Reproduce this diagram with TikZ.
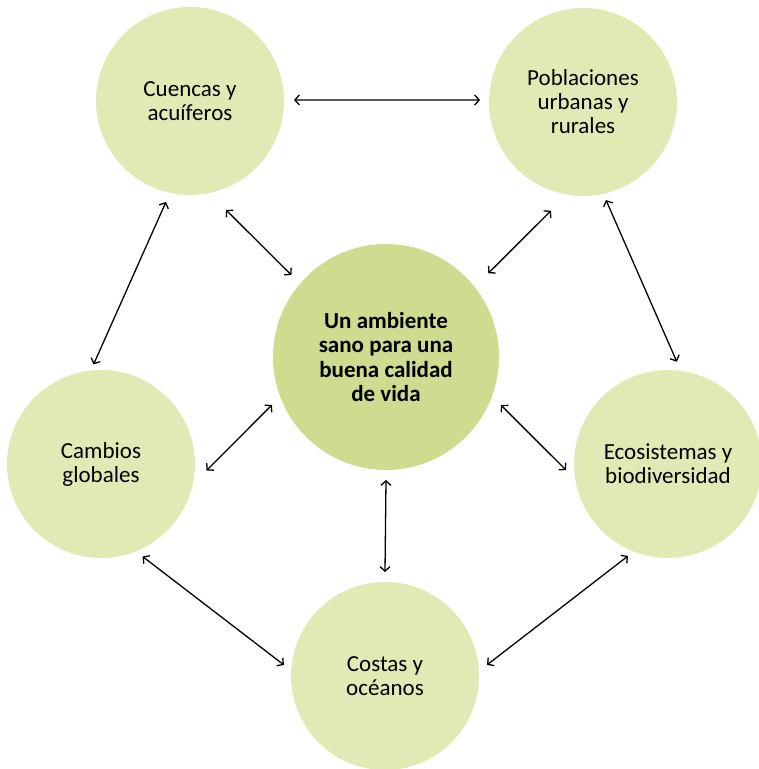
\documentclass[tikz,border=0pt]{standalone}
\usepackage{fontspec}
\setmainfont{Carlito}
\usetikzlibrary{arrows.meta}
\definecolor{leaf}{HTML}{E1EAB4}
\definecolor{core}{HTML}{CDDC8F}
\begin{document}
\begin{tikzpicture}[x=1pt,y=1pt,
  topic/.style={circle, fill=leaf, minimum size=188pt, inner sep=0pt, align=center,
    font=\fontsize{23}{24}\selectfont},
  hub/.style={topic, fill=core, minimum size=226pt, font=\fontsize{23}{24.5}\selectfont\bfseries},
  link/.style={line width=1.3pt, {Straight Barb[length=4.5pt,width=10pt]}-{Straight Barb[length=4.5pt,width=10pt]}}]
\useasboundingbox (0,0) rectangle (759,769);
\node[topic] (cue) at (190,668){Cuencas y\\acuíferos};
\node[topic] (pob) at (583,667){Poblaciones\\urbanas y\\rurales};
\node[hub] (mid) at (386,412){Un ambiente\\sano para una\\buena calidad\\de vida};
\node[topic] (cam) at (101,305){Cambios\\globales};
\node[topic] (eco) at (668,305){Ecosistemas y\\biodiversidad};
\node[topic] (cos) at (385,93){Costas y\\océanos};
\draw[link] ([shift={(0.6:104pt)}]cue.center) -- ([shift={(178.9:103pt)}]pob.center);
\draw[link] ([shift={(288.3:114.8pt)}]cue.center) -- ([shift={(139.1:125.1pt)}]mid.center);
\draw[link] ([shift={(253.6:113.3pt)}]pob.center) -- ([shift={(39.3:132.2pt)}]mid.center);
\draw[link] ([shift={(256.6:103.8pt)}]cue.center) -- ([shift={(94.3:99.8pt)}]cam.center);
\draw[link] ([shift={(283.2:100.7pt)}]pob.center) -- ([shift={(85.1:102.7pt)}]eco.center);
\draw[link] ([shift={(202.8:123.7pt)}]mid.center) -- ([shift={(356.5:105.7pt)}]cam.center);
\draw[link] ([shift={(337.3:124.6pt)}]mid.center) -- ([shift={(183.4:102.2pt)}]eco.center);
\draw[link] ([shift={(270:123pt)}]mid.center) -- ([shift={(90:104pt)}]cos.center);
\draw[link] ([shift={(294.2:101.4pt)}]cam.center) -- ([shift={(173.8:101.6pt)}]cos.center);
\draw[link] ([shift={(246.5:100.3pt)}]eco.center) -- ([shift={(6.2:102.6pt)}]cos.center);
\end{tikzpicture}
\end{document}
